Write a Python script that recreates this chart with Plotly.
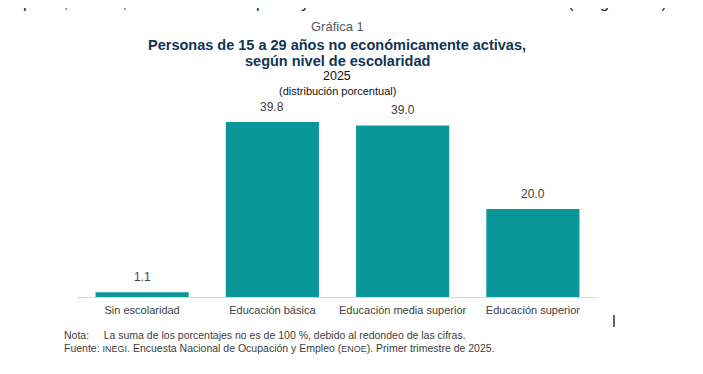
import plotly.graph_objects as go

categories = ["Sin escolaridad", "Educación básica", "Educación media superior", "Educación superior"]
values = [1.1, 39.8, 39.0, 20.0]
value_labels = ["1.1", "39.8", "39.0", "20.0"]

# page body adds an 8px offset; work in screen pixels and convert
OFF = 8
W, H = 703 - OFF, 374 - OFF
ML, MT = 77 - OFF, 110 - OFF
PR, PB = 598 - OFF, 297 - OFF
MR, MB = W - PR, H - PB
PW, PH = PR - ML, PB - MT

def px(xs):
    return (xs - OFF - ML) / PW

def py(ys):
    return (PB - (ys - OFF)) / PH

FONT = "Liberation Sans, Arial, sans-serif"
TEAL = "#0A9799"
NAVY = "#0F3557"
GRAY = "#404040"

fig = go.Figure()
fig.add_trace(go.Bar(
    x=categories, y=values, marker=dict(color=TEAL, line=dict(width=0)),
    hoverinfo="skip", width=0.715,
))

for c, v, t in zip(categories, values, value_labels):
    fig.add_annotation(x=c, y=v, text=t, showarrow=False, yanchor="bottom",
                       yshift=6, font=dict(family=FONT, size=12, color=GRAY))

def note(xs, ys, text, size, color, xanchor="center"):
    fig.add_annotation(xref="paper", yref="paper", x=px(xs), y=py(ys), text=text,
                       showarrow=False, xanchor=xanchor, yanchor="middle",
                       font=dict(family=FONT, size=size, color=color))

note(4, 3, "superior; 20.0 %, con educación superior y 1.1 % carecía de instrucción formal (ver gráfica 1).", 16, "#222222", xanchor="left")
note(337, 26, "Gráfica 1", 13, "#595959")
note(337, 45, "<b>Personas de 15 a 29 años no económicamente activas,</b>", 14.5, NAVY)
note(337, 61, "<b>según nivel de escolaridad</b>", 14.5, NAVY)
note(337, 76, "2025", 12.5, "#111111")
note(337, 91, "(distribución porcentual)", 11, "#111111")
note(62, 335, "Nota:&nbsp;&nbsp;&nbsp;&nbsp;&nbsp;La suma de los porcentajes no es de 100 %, debido al redondeo de las cifras.", 10.5, GRAY, xanchor="left")
note(62, 348, "Fuente: <span style='font-size:9px'>INEGI</span>. Encuesta Nacional de Ocupación y Empleo (<span style='font-size:9px'>ENOE</span>). Primer trimestre de 2025.", 10.5, GRAY, xanchor="left")

fig.add_shape(type="line", xref="paper", yref="paper", x0=px(614), x1=px(614),
              y0=py(315), y1=py(327), line=dict(color="#000000", width=1.2))

fig.update_layout(
    width=W, height=H, margin=dict(l=ML, r=MR, t=MT, b=MB, pad=0),
    paper_bgcolor="white", plot_bgcolor="white", showlegend=False,
    bargap=0.285,
    font=dict(family=FONT, color=GRAY),
)
fig.update_xaxes(showline=True, linecolor="#D9D9D9", linewidth=1, ticks="",
                 ticklabelstandoff=3,
                 tickfont=dict(family=FONT, size=11, color=GRAY), showgrid=False,
                 range=[-0.5, 3.5], fixedrange=True)
fig.update_yaxes(visible=False, range=[0, PH / 4.4], showgrid=False, zeroline=False, fixedrange=True)

fig.write_html("out.html", config={"displayModeBar": False})
